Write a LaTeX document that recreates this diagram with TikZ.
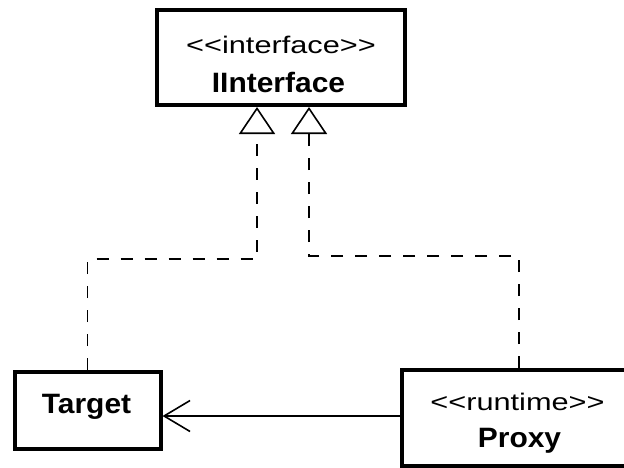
\documentclass[tikz,border=0pt]{standalone}
\usepackage{fontspec}
\setmainfont{Liberation Sans}
\newfontfamily\stfont{Liberation Sans}[FakeStretch=1.28]
\newfontfamily\bdfont{Liberation Sans}[FakeStretch=1.07]
\usetikzlibrary{arrows.meta}
\tikzset{
  umlbox/.style={draw=black, line width=4pt, fill=white, inner sep=0pt, rectangle},
  stereo/.style={anchor=base, inner sep=0pt, font=\stfont\fontsize{24}{24}\selectfont},
  cname/.style={anchor=base, inner sep=0pt, font=\bdfont\bfseries\fontsize{28}{28}\selectfont},
  real/.style={draw=black, line width=1.8pt, dash pattern=on 12pt off 12pt,
    -{Triangle[open, length=27pt, width=36pt, line width=1.6pt]}},
  assoc/.style={draw=black, line width=1.8pt, -{Straight Barb[length=26pt, width=31pt, line width=1.6pt]}}
}
\begin{document}
\begin{tikzpicture}[x=1pt, y=-1pt]
\useasboundingbox (0,0) rectangle (624,467);
\fill[white] (0,0) rectangle (624,467);
% boxes
\node[umlbox, minimum width=248pt, minimum height=95pt] (iface) at (281,57.5) {};
\node[umlbox, minimum width=146pt, minimum height=77pt] (target) at (87.5,410.5) {};
\node[umlbox, minimum width=234pt, minimum height=96pt] (proxy) at (519,418) {};
% texts
\node[stereo] (ifacest) at (281,53) {<<interface>>};
\node[cname] (ifacenm) at (278.5,92) {IInterface};
\node[cname] (targetnm) at (86.5,413) {Target};
\node[stereo] (proxyst) at (517.5,410) {<<runtime>>};
\node[cname] (proxynm) at (519.5,447) {Proxy};
% bend points
\coordinate (lc) at (87.5,259);
\coordinate (rc) at (519,256);
\coordinate (ltip) at (257,0);
\coordinate (rtip) at (309,0);
% connectors
\draw[real] (target.north) -- (lc) -| (ltip |- iface.south);
\draw[real] (proxy.north) -- (rc) -| (rtip |- iface.south);
\draw[assoc] (proxy.west |- 0,416) -- (target.east |- 0,416);
\end{tikzpicture}
\end{document}
